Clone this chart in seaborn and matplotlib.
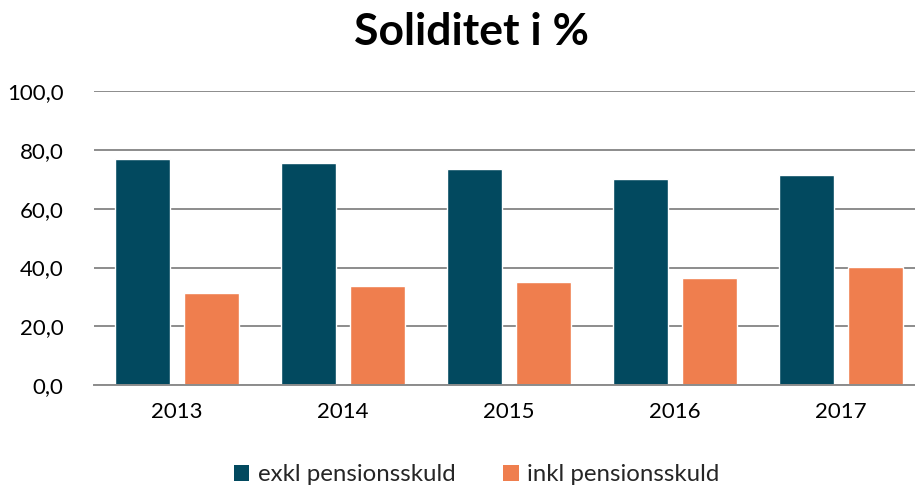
import matplotlib
matplotlib.use("Agg")
import matplotlib.pyplot as plt
import seaborn as sns
import pandas as pd
from matplotlib.ticker import FuncFormatter, MultipleLocator
from matplotlib.patches import Patch

years = ["2013", "2014", "2015", "2016", "2017"]
exkl = [76.8, 75.6, 73.4, 70.0, 71.5]
inkl = [31.2, 33.7, 35.1, 36.5, 40.3]
series = ["exkl pensionsskuld", "inkl pensionsskuld"]
colors = ["#02495F", "#EF7E4E"]

df = pd.DataFrame({
    "year": years * 2,
    "value": exkl + inkl,
    "serie": [series[0]] * len(years) + [series[1]] * len(years),
})

sns.set_theme(style="white")
plt.rcParams["font.family"] = ["Lato", "DejaVu Sans"]

fig = plt.figure(figsize=(9.15, 4.88), dpi=100)
ax = fig.add_axes([94 / 915, (488 - 385) / 488, 830 / 915, (385 - 91.3) / 488])

sns.barplot(data=df, x="year", y="value", hue="serie", palette=colors,
            width=0.83, gap=0.2, ax=ax, legend=False, saturation=1)

ax.set_ylim(0, 100)
ax.set_xlim(-0.5, len(years) - 0.5)
ax.yaxis.set_major_locator(MultipleLocator(20))
ax.yaxis.set_major_formatter(FuncFormatter(lambda v, _: f"{v:.1f}".replace(".", ",")))
ax.grid(axis="y", color="#8C8C8C", linewidth=1.4)
ax.set_axisbelow(True)
for s in ["top", "right", "left"]:
    ax.spines[s].set_visible(False)
ax.spines["bottom"].set_color("#8C8C8C")
ax.spines["bottom"].set_linewidth(1.4)
ax.tick_params(axis="y", length=0, pad=22, labelsize=16, labelcolor="#000000")
ax.tick_params(axis="x", length=0, pad=12, labelsize=16, labelcolor="#000000")
ax.set_xlabel("")
ax.set_ylabel("")

fig.text(0.515, 0.935, "Soliditet i %", ha="center", va="center",
         fontsize=32, fontweight="bold", color="#000000")

handles = [Patch(facecolor=c, edgecolor="none") for c in colors]
fig.legend(handles, series, loc="center", bbox_to_anchor=(0.521, 0.027),
           ncol=2, frameon=False, fontsize=17.3, handlelength=0.65,
           handleheight=0.65, handletextpad=0.35, columnspacing=2.0)

fig.savefig("out.png", dpi=100)
